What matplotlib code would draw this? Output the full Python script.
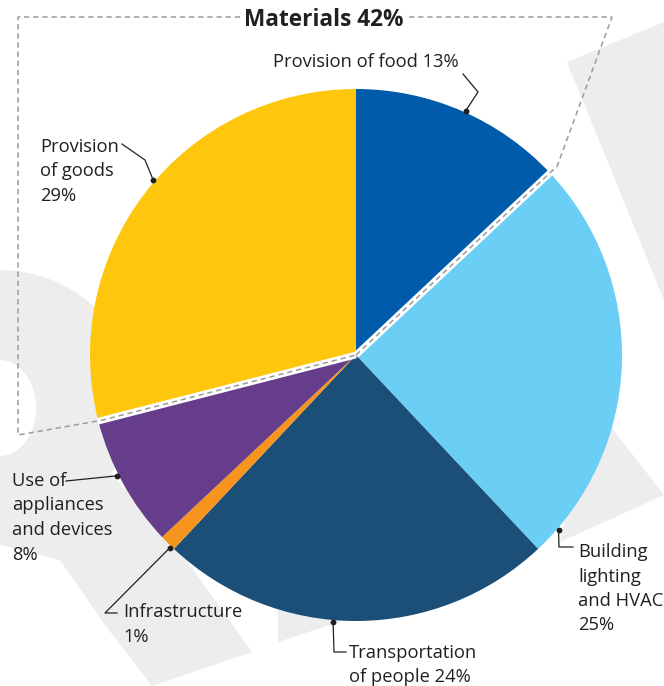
import numpy as np
import matplotlib.pyplot as plt
from matplotlib.patches import Polygon, Ellipse

W, H = 664, 686

# data
categories = ["Provision of food", "Building lighting and HVAC", "Transportation of people",
              "Infrastructure", "Use of appliances and devices", "Provision of goods"]
shares = [13, 25, 24, 1, 8, 29]
colors = ["#005BAA", "#6BCEF5", "#1B4F78", "#F7941E", "#663D8A", "#FEC70D"]
label_lines = [["Provision of food 13%"],
               ["Building", "lighting", "and HVAC", "25%"],
               ["Transportation", "of people 24%"],
               ["Infrastructure", "1%"],
               ["Use of", "appliances", "and devices", "8%"],
               ["Provision", "of goods", "29%"]]
group_title = "Materials 42%"
group_members = [0, 5]  # food + goods

# layout (pixel coords, y from top)
cx, cy, R = 356, 355, 266
text_pos = [(273, 60), (578, 550), (349, 651), (123, 610), (12, 479), (40, 145)]
line_step = 24.5
dot_angles = [65.8, -40.9, -94.9, -134.0, -153.2, 139.2]
elbows = [[(478, 92), (463, 74)],
          [(559, 547), (573, 547)],
          [(334, 652), (346, 652)],
          [(105, 613), (117, 613)],
          [(66, 481)],
          [(145, 160), (122, 144)]]

TXT = "#231F20"
plt.rcParams['font.family'] = ['Open Sans', 'DejaVu Sans']


def px(x, y):
    return (x, H - y)


fig = plt.figure(figsize=(W / 100, H / 100), dpi=100)
ax = fig.add_axes([0, 0, 1, 1])

# faint background watermark shapes
wm = "#EDEDED"
for pts in [[(567, 62), (664, 22), (664, 300)],
            [(590, 400), (664, 495), (560, 542)],
            [(0, 470), (100, 462), (172, 540), (252, 652), (152, 686), (105, 625), (60, 560), (0, 545)],
            [(278, 610), (278, 642), (345, 620), (345, 590)]]:
    ax.add_patch(Polygon([px(*p) for p in pts], closed=True, fc=wm, ec="none", zorder=0))
ax.add_patch(Ellipse(px(0, 400), 270, 260, fc=wm, ec="none", zorder=0))
ax.add_patch(Ellipse(px(0, 408), 72, 96, fc="white", ec="none", zorder=0.5))

# pie
wedges, _ = ax.pie(shares, colors=colors, startangle=90, counterclock=False,
                   center=px(cx, cy), radius=R, frame=True,
                   wedgeprops=dict(linewidth=0, zorder=2))

# boundaries of the materials group
bounds = 90 - 360 * np.cumsum(shares) / sum(shares)
right_edge = np.radians(bounds[0])
left_edge = np.radians(bounds[4])
c = np.array(px(cx, cy))
for a in [right_edge, left_edge]:
    end = c + (R + 1) * np.array([np.cos(a), np.sin(a)])
    ax.plot([c[0], end[0]], [c[1], end[1]], color="white", lw=4.8,
            solid_capstyle="butt", zorder=3)

# dashed outline around materials group
p_right = c + 276 * np.array([np.cos(right_edge), np.sin(right_edge)])
p_left = c + 262 * np.array([np.cos(left_edge), np.sin(left_edge)])
outline = [tuple(c), tuple(p_right), px(612, 17), px(18, 17), px(18, 435), tuple(p_left), tuple(c)]
ox, oy = zip(*outline)
ax.plot(ox, oy, color="#9B9B9B", lw=1.1, dashes=(3.5, 2.5), zorder=4)

ax.text(*px(324, 17), group_title, ha="center", va="center_baseline", fontsize=16.3,
        fontweight="bold", color=TXT, zorder=5,
        bbox=dict(fc="white", ec="none", pad=2))

# labels with leader lines
for i, lines in enumerate(label_lines):
    a = np.radians(dot_angles[i])
    dot = c + (R + 2) * np.array([np.cos(a), np.sin(a)])
    path = [tuple(dot)] + [px(*p) for p in elbows[i]]
    lx, ly = zip(*path)
    ax.plot(lx, ly, color=TXT, lw=0.9, zorder=5)
    ax.plot(dot[0], dot[1], "o", color=TXT, ms=3.2, zorder=6)
    tx, ty = text_pos[i]
    for k, s in enumerate(lines):
        ax.text(*px(tx, ty + k * line_step), s, ha="left", va="center_baseline",
                fontsize=13.2, color=TXT, zorder=5)

ax.set_xlim(0, W)
ax.set_ylim(0, H)
ax.set_aspect("equal")
ax.axis("off")

fig.savefig("out.png", dpi=100)
